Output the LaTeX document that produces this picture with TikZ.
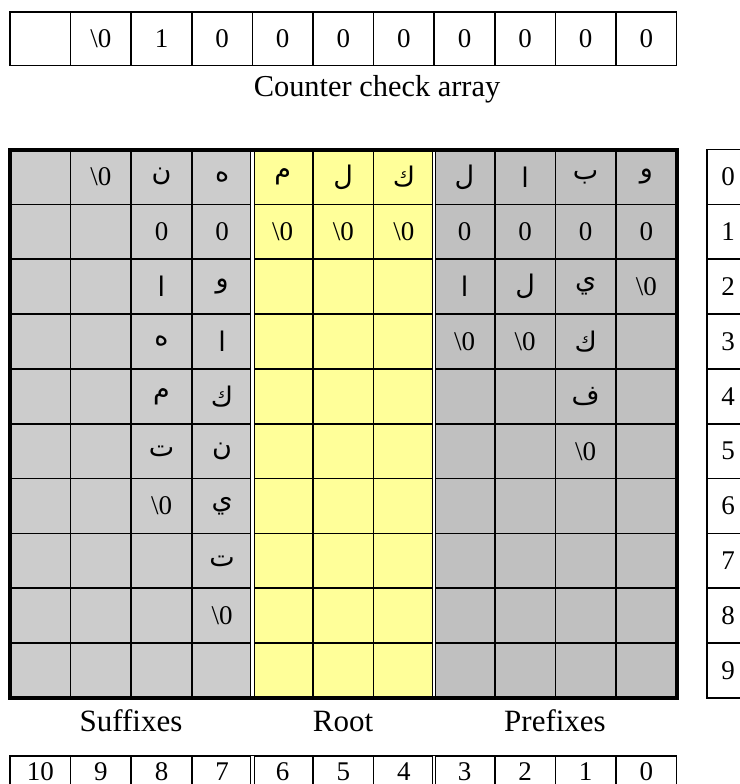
\documentclass[tikz,border=0pt]{standalone}
\usepackage{fontspec}
\setmainfont{Liberation Serif}
\newfontfamily\arabicfont[Script=Arabic]{DejaVu Sans}
\TeXXeTstate=1
\usetikzlibrary{positioning}

\newcommand{\arb}[1]{{\arabicfont\beginR #1\endR}}
\newcommand{\zterm}{\textbackslash 0}

\definecolor{sufgray}{HTML}{CCCCCC}
\definecolor{pregray}{HTML}{C0C0C0}
\definecolor{rootyellow}{HTML}{FFFF99}

\begin{document}
\begin{tikzpicture}[
    x=0.5pt, y=-0.5pt,
    cell/.style={draw, line width=0.8pt, minimum width=30.3pt, minimum height=27.4pt,
                 inner sep=0pt, outer sep=0pt, font=\fontsize{13.5pt}{15pt}\selectfont},
    topcell/.style={cell, minimum height=26.7pt},
    botcell/.style={cell, minimum height=16pt},
    idxcell/.style={cell, minimum width=21pt},
    caption/.style={font=\fontsize{15.5pt}{18pt}\selectfont, anchor=base},
    frame/.style={line width=2pt},
    dbl/.style={double, line width=0.5pt, double distance=1.2pt},
]
\useasboundingbox (0,0) rectangle (740,784);
\clip (0,0) rectangle (740,784);

% === Counter check array ===
\foreach \t [count=\i from 0] in {{},\zterm,1,0,0,0,0,0,0,0,0}
    \node[topcell] (cc-\i) at ({40.3+60.6*\i},38.7) {\t};
\node[caption, font=\fontsize{15.2pt}{18pt}\selectfont] (cclabel) at (377,96) {Counter check array};

% === Main grid: backgrounds ===
\fill[sufgray] (10,149.5) rectangle (252.4,698);
\fill[rootyellow] (252.4,149.5) rectangle (434.2,698);
\fill[pregray] (434.2,149.5) rectangle (676,698);

% === Main grid: cells ===
\foreach \rowlist [count=\r from 0] in {%
    {{},\zterm,\arb{ن},\arb{ه},\arb{م},\arb{ل},\arb{ك},\arb{ل},\arb{ا},\arb{ب},\arb{و}},%
    {{},{},0,0,\zterm,\zterm,\zterm,0,0,0,0},%
    {{},{},\arb{ا},\arb{و},{},{},{},\arb{ا},\arb{ل},\arb{ي},\zterm},%
    {{},{},\arb{ه},\arb{ا},{},{},{},\zterm,\zterm,\arb{ك},{}},%
    {{},{},\arb{م},\arb{ك},{},{},{},{},{},\arb{ف},{}},%
    {{},{},\arb{ت},\arb{ن},{},{},{},{},{},\zterm,{}},%
    {{},{},\zterm,\arb{ي},{},{},{},{},{},{},{}},%
    {{},{},{},\arb{ت},{},{},{},{},{},{},{}},%
    {{},{},{},\zterm,{},{},{},{},{},{},{}},%
    {{},{},{},{},{},{},{},{},{},{},{}}%
}{
    \foreach \t [count=\c from 0] in \rowlist
        \node[cell] (m-\r-\c) at ({40.3+60.6*\c},{176.9+54.85*\r}) {\t};
}
\draw[dbl] (m-0-3.north east) -- (m-9-3.south east);
\draw[dbl] (m-0-6.north east) -- (m-9-6.south east);
\draw[frame] (m-0-0.north west) rectangle (m-9-10.south east);

% === Row index ===
\foreach \i in {0,...,9}
    \node[idxcell] (ix-\i) at (728,{176.9+54.85*\i}) {\i};

% === Part labels ===
\node[caption] (suflabel) at (131,731) {Suffixes};
\node[caption] (rootlabel) at (343,731) {Root};
\node[caption] (prelabel) at (555,731) {Prefixes};

% === Position array ===
\foreach \t [count=\i from 0] in {10,9,8,7,6,5,4,3,2,1,0}
    \node[botcell] (ps-\i) at ({40.3+60.6*\i},772) {\t};
\draw[dbl] (ps-3.north east) -- (ps-3.south east);
\draw[dbl] (ps-6.north east) -- (ps-6.south east);

\end{tikzpicture}
\end{document}
